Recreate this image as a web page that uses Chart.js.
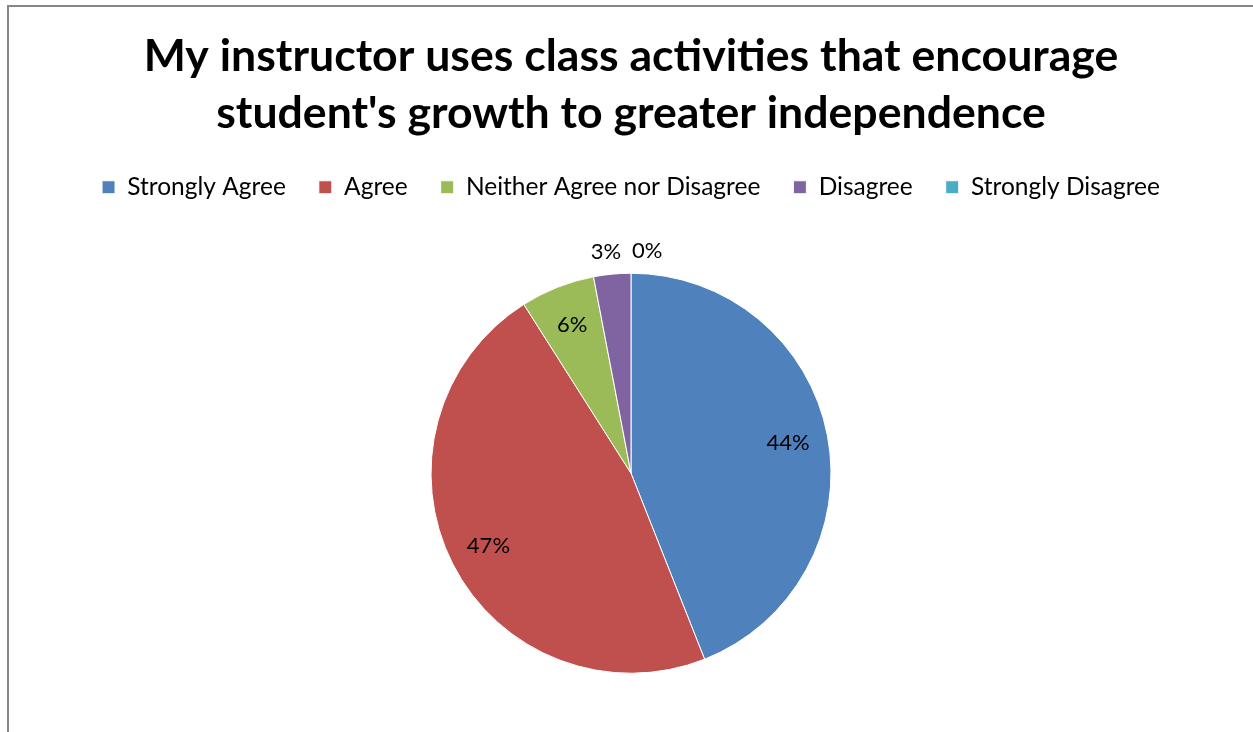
<!DOCTYPE html>
<html>
<head>
<meta charset="utf-8">
<script src="https://cdn.jsdelivr.net/npm/chart.js@4.4.0/dist/chart.umd.min.js"></script>
<style>
  html, body { margin: 0; padding: 0; background: #fff; overflow: hidden; }
  #wrap { position: relative; width: 1253px; height: 732px; }
  #frame {
    position: absolute; left: 7px; top: 5px; width: 1260px; height: 740px;
    border-left: 2px solid #878787; border-top: 2px solid #878787;
  }
  canvas { position: absolute; left: 0; top: 0; }
</style>
</head>
<body>
<div id="wrap">
  <div id="frame"></div>
  <canvas id="pieChart" width="1253" height="732"></canvas>
</div>
<script>
const titleLines = [
  "My instructor uses class activities that encourage",
  "student's growth to greater independence",
];
const categories = [
  "Strongly Agree",
  "Agree",
  "Neither Agree nor Disagree",
  "Disagree",
  "Strongly Disagree",
];
const percentValues = [44, 47, 6, 3, 0];
const sliceColors = ["#4F81BD", "#C0504D", "#9BBB59", "#8064A2", "#4BACC6"];

const fontFamily = "Lato, 'Open Sans', sans-serif";

// a little extra room under the legend so the pie sits lower
const legendSpacer = {
  id: "legendSpacer",
  beforeInit(chart) {
    const fit = chart.legend.fit;
    chart.legend.fit = function () {
      fit.bind(chart.legend)();
      this.height += 5;
    };
  },
};

// draws the percentage labels, inside big slices and outside small ones
const sliceLabels = {
  id: "sliceLabels",
  afterDatasetsDraw(chart) {
    const ctx = chart.ctx;
    const meta = chart.getDatasetMeta(0);
    const values = chart.data.datasets[0].data;
    ctx.save();
    ctx.font = "22px " + fontFamily;
    ctx.fillStyle = "#000";
    ctx.textBaseline = "middle";
    meta.data.forEach((arc, i) => {
      const p = arc.getProps(["x", "y", "startAngle", "endAngle", "outerRadius"], true);
      const mid = (p.startAngle + p.endAngle) / 2;
      const text = values[i] + "%";
      if (values[i] >= 5) {
        const r = p.outerRadius * 0.8;
        ctx.textAlign = "center";
        ctx.fillText(text, p.x + Math.cos(mid) * r, p.y + Math.sin(mid) * r);
      } else {
        const r = p.outerRadius + 22;
        const x = p.x + Math.cos(mid) * r;
        const y = p.y + Math.sin(mid) * r;
        if (x < p.x - 1) {
          ctx.textAlign = "right";
          ctx.fillText(text, x + 11, y);
        } else {
          ctx.textAlign = "left";
          ctx.fillText(text, x + 1, y);
        }
      }
    });
    ctx.restore();
  },
};

const ctx = document.getElementById("pieChart").getContext("2d");

const pieChart = new Chart(ctx, {
  type: "pie",
  data: {
    labels: categories,
    datasets: [
      {
        data: percentValues,
        backgroundColor: sliceColors,
        borderColor: "#ffffff",
        borderWidth: 1,
        radius: 200,
      },
    ],
  },
  options: {
    responsive: false,
    animation: false,
    layout: {
      padding: { left: 9, right: 0, top: 0, bottom: -6 },
    },
    plugins: {
      title: {
        display: true,
        text: titleLines,
        color: "#000",
        font: { family: fontFamily, size: 44.6, weight: "bold", lineHeight: 1.278 },
        padding: { top: 28, bottom: 0 },
      },
      legend: {
        position: "top",
        labels: {
          color: "#000",
          boxWidth: 13,
          boxHeight: 13,
          padding: 33,
          font: { family: fontFamily, size: 24.5 },
        },
      },
      tooltip: { enabled: false },
    },
  },
  plugins: [legendSpacer, sliceLabels],
});
</script>
</body>
</html>
